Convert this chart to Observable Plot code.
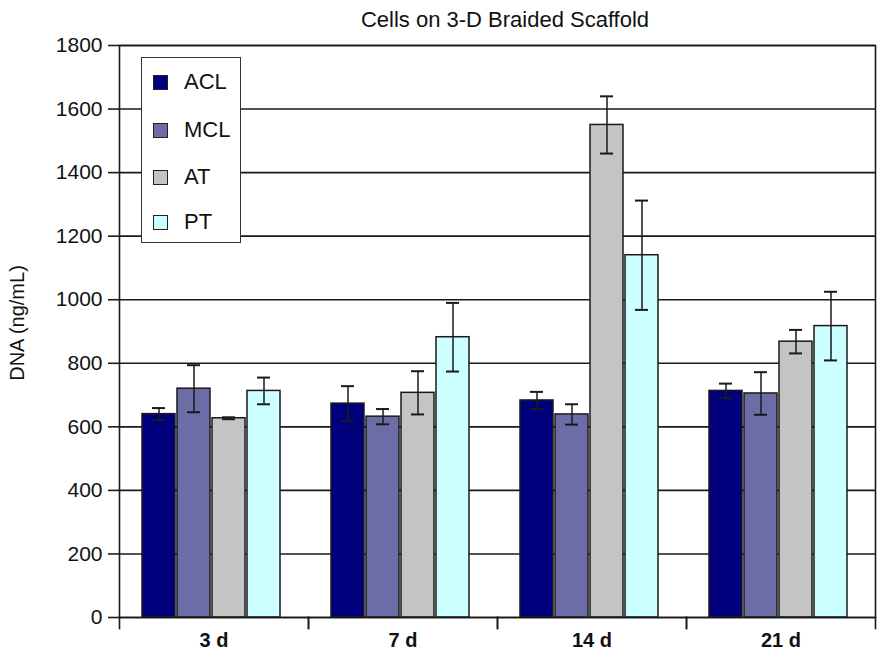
<!DOCTYPE html>
<html>
<head>
<meta charset="utf-8">
<script src="https://cdn.jsdelivr.net/npm/d3@7"></script>
<script src="https://cdn.jsdelivr.net/npm/@observablehq/plot@0.6"></script>
<style>
  body { margin: 0; background: #fff; }
  #wrap { position: relative; width: 886px; height: 664px; font-family: "Liberation Sans", Arial, sans-serif; color: #111; }
  #wrap svg { display: block; }
  #title { position: absolute; top: 9px; left: 505px; transform: translateX(-50%); font-size: 22px; line-height: 22px; white-space: nowrap; }
  #ylabel { position: absolute; left: 17px; top: 323px; transform: translate(-50%, -50%) rotate(-90deg); font-size: 20px; line-height: 20px; white-space: nowrap; }
  #legend { position: absolute; left: 141px; top: 57px; width: 98px; height: 184px; border: 1.5px solid #333; background: #fff; }
  .item { position: absolute; left: 11px; height: 24px; display: flex; align-items: center; font-size: 22px; }
  .sw { width: 13px; height: 13px; border: 1.5px solid #222; margin-right: 16px; }
</style>
</head>
<body>
<div id="wrap">
  <div id="title">Cells on 3-D Braided Scaffold</div>
</div>
<script>
// ---- data ----
const groups = ["3 d", "7 d", "14 d", "21 d"];
const series = ["ACL", "MCL", "AT", "PT"];
const seriesColors = ["#00007c", "#6c6ca6", "#c4c4c4", "#ccffff"];
const yTicks = [0, 200, 400, 600, 800, 1000, 1200, 1400, 1600, 1800];
const yLabel = "DNA (ng/mL)";

const ACL = [640, 673, 683, 713];
const MCL = [720, 632, 639, 705];
const AT  = [627, 707, 1550, 868];
const PT  = [713, 882, 1140, 917];

const ACLerr = [19, 55, 27, 23];
const MCLerr = [74, 24, 32, 67];
const ATerr  = [3, 68, 90, 37];
const PTerr  = [42, 108, 172, 108];

// ---- table ----
const values = {ACL, MCL, AT, PT};
const errs = {ACL: ACLerr, MCL: MCLerr, AT: ATerr, PT: PTerr};
const rows = [];
groups.forEach((g, i) => series.forEach(s => rows.push({group: g, series: s, value: values[s][i], err: errs[s][i]})));

const ink = "#1a1a1a";

const chart = Plot.plot({
  width: 886,
  height: 664,
  marginLeft: 117,
  marginRight: 10,
  marginTop: 45,
  marginBottom: 47,
  style: { fontFamily: "'Liberation Sans', Arial, sans-serif", fontSize: "21px", color: "#111", background: "#fff" },
  fx: { domain: groups, padding: 0, axis: null },
  x: { domain: series, paddingInner: 0.057, paddingOuter: 0.72, align: 0.45, axis: null },
  y: { domain: [0, 1800], axis: null },
  color: { domain: series, range: seriesColors },
  marks: [
    Plot.ruleY(yTicks, { stroke: ink, strokeWidth: 1.6 }),
    Plot.barY(rows, { fx: "group", x: "series", y: "value", fill: "series", stroke: ink, strokeWidth: 1.5 }),
    Plot.ruleX(rows, { fx: "group", x: "series", y1: d => d.value - d.err, y2: d => d.value + d.err, stroke: ink, strokeWidth: 1.5 }),
    Plot.tickY(rows, { fx: "group", x: "series", y: d => d.value + d.err, stroke: ink, strokeWidth: 2, insetLeft: 10, insetRight: 10 }),
    Plot.tickY(rows, { fx: "group", x: "series", y: d => d.value - d.err, stroke: ink, strokeWidth: 2, insetLeft: 10, insetRight: 10 }),
    Plot.frame({ facet: "super", stroke: ink, strokeWidth: 1.6 }),
    Plot.frame({ anchor: "left", insetTop: 572, insetBottom: -11, stroke: ink, strokeWidth: 1.6 }),
    Plot.frame({ anchor: "right", insetTop: 572, insetBottom: -11, stroke: ink, strokeWidth: 1.6 }),
    Plot.axisY({ ticks: yTicks, tickFormat: d => String(d), tickSize: 11, tickPadding: 6, fontSize: 21, stroke: ink, strokeWidth: 1.6, label: null }),
    Plot.axisFx({ anchor: "bottom", tickSize: 0, tickPadding: 15, fontSize: 20, fontWeight: "bold", label: null })
  ]
});
const wrap = document.getElementById("wrap");
wrap.appendChild(chart);

// ---- y-axis title ----
const yl = document.createElement("div");
yl.id = "ylabel";
yl.textContent = yLabel;
wrap.appendChild(yl);

// ---- legend (inside the plot area, as in the reference) ----
const legend = document.createElement("div");
legend.id = "legend";
const rowTops = [12, 60, 107, 152];
series.forEach((s, i) => {
  const it = document.createElement("div");
  it.className = "item";
  it.style.top = rowTops[i] + "px";
  const sw = document.createElement("span");
  sw.className = "sw";
  sw.style.background = seriesColors[i];
  const lab = document.createElement("span");
  lab.textContent = s;
  it.appendChild(sw);
  it.appendChild(lab);
  legend.appendChild(it);
});
wrap.appendChild(legend);
</script>
</body>
</html>
